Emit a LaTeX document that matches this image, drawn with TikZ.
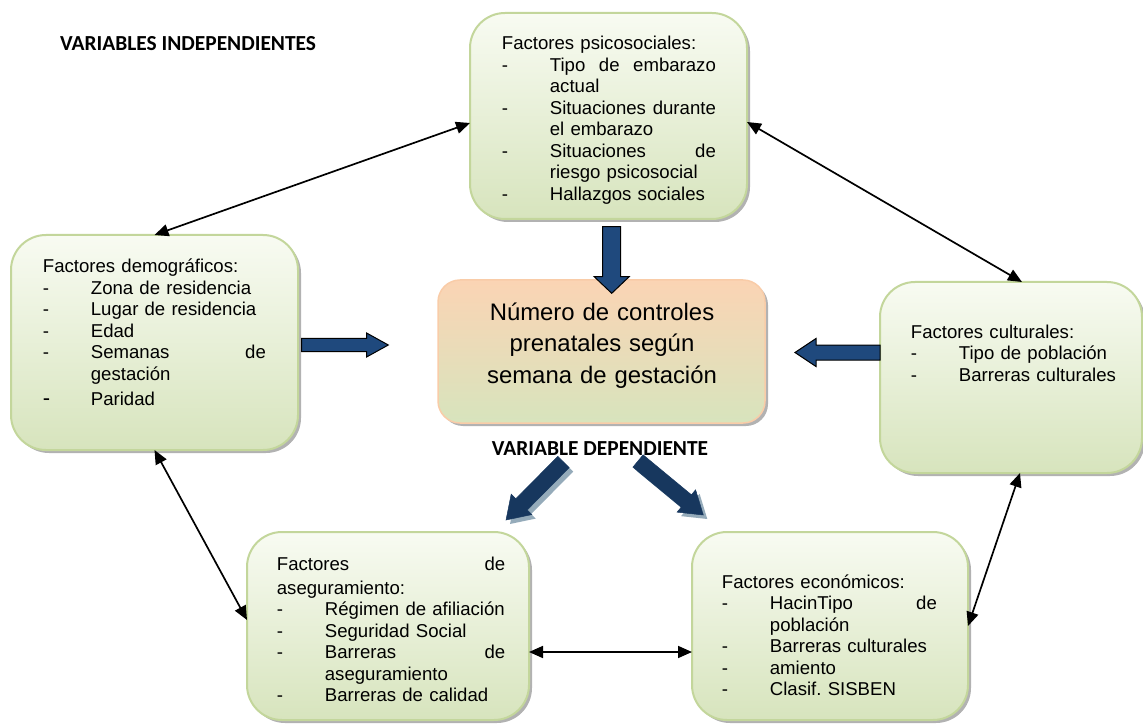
\documentclass[tikz,border=0pt]{standalone}
\usepackage{fontspec}
\setmainfont{Liberation Sans}
\newfontfamily\carl{Carlito}
\usetikzlibrary{arrows.meta,calc,shadows}
\definecolor{boxborder}{HTML}{C3D69B}
\definecolor{boxtop}{HTML}{F8FBF2}
\definecolor{boxbot}{HTML}{D7E4BD}
\definecolor{peach}{HTML}{FBD4B4}
\definecolor{peachb}{HTML}{F9CCA8}
\definecolor{navy}{HTML}{1F497D}
\definecolor{navyd}{HTML}{17375E}
\definecolor{arrshadow}{HTML}{95ABBA}
\newcommand\di{\makebox[48pt][l]{-}}
\newcommand\ct{\hspace*{48pt}}
\newcommand\blockarrow[6]{%
  \coordinate (bH) at ($(#3)!#6!(#2)$);
  \draw[#1] ($(#2)!#4!90:(#3)$) -- ($(bH)!#4!-90:(#2)$) -- ($(bH)!#5!-90:(#2)$) -- (#3)
    -- ($(bH)!#5!90:(#2)$) -- ($(bH)!#4!90:(#2)$) -- ($(#2)!#4!-90:(#3)$) -- cycle;
}
\tikzset{
  gbox/.style={draw=boxborder, line width=2pt, rounded corners=35pt,
    top color=boxtop, bottom color=boxbot, inner sep=0pt, outer sep=0pt,
    general shadow={fill=black!30, shadow xshift=3pt, shadow yshift=-3pt}},
  cbox/.style={draw=peachb, line width=1.5pt, rounded corners=22pt,
    top color=peach, bottom color=boxbot, inner sep=0pt, outer sep=0pt,
    general shadow={fill=black!30, shadow xshift=3pt, shadow yshift=-3pt}},
  txt/.style={anchor=base west, align=left, inner sep=0pt,
    font=\fontsize{18.6}{21.5}\selectfont\frenchspacing},
  lbl/.style={inner sep=0pt, font=\carl\bfseries\fontsize{21.4}{25}\selectfont},
  conn/.style={line width=1.7pt, {Triangle[length=14pt,width=12pt]}-{Triangle[length=14pt,width=12pt]}},
  blk/.style={fill=navy, draw=black, line width=1pt},
  blkd/.style={fill=navyd, draw=navyd, line width=0.5pt},
  blks/.style={fill=arrshadow, draw=none, transform canvas={shift={(4pt,-4pt)}}}
}
\begin{document}
\begin{tikzpicture}[x=1pt,y=-1pt]
\useasboundingbox (0,0) rectangle (1143,727);

% boxes
\node[gbox, minimum width=277pt, minimum height=206pt] (psi) at (608.5,116) {};
\node[gbox, minimum width=287pt, minimum height=215pt] (demog) at (154.5,342.5) {};
\node[gbox, minimum width=262pt, minimum height=191pt] (cult) at (1011,377.5) {};
\node[gbox, minimum width=282pt, minimum height=188pt] (aseg) at (388,626) {};
\node[gbox, minimum width=276pt, minimum height=188pt] (econ) at (830,626) {};
\node[cbox, minimum width=327pt, minimum height=143pt] (central) at (601.5,351.5) {};

% texts
\node[txt, text width=214pt] (psiT) at (501.7,50) {Factores psicosociales:\\
\di Tipo\hfill de\hfill embarazo\\
\ct actual\\
\di Situaciones\hfill durante\\
\ct el embarazo\\
\di Situaciones\hfill de\\
\ct riesgo psicosocial\\
\di Hallazgos sociales};

\node[txt, text width=223pt] (demogT) at (42.7,272.7) {Factores demográficos:\\
\di Zona de residencia\\
\di Lugar de residencia\\
\di Edad\\
\di Semanas\hfill de\\
\ct gestación\\[3.5pt]
\makebox[48pt][l]{\fontsize{22}{22}\selectfont -}Paridad};

\node[txt, text width=230pt] (cultT) at (910.7,338) {Factores culturales:\\
\di Tipo de población\\
\di Barreras culturales};

\node[txt, text width=228.3pt] (asegT) at (276.7,570) {Factores\hfill de\\[2.5pt]
aseguramiento:\\
\di Régimen de afiliación\\
\di Seguridad Social\\
\di Barreras\hfill de\\
\ct aseguramiento\\
\di Barreras de calidad};

\node[txt, text width=215pt] (econT) at (721.7,588) {Factores económicos:\\
\di HacinTipo\hfill de\\
\ct población\\
\di Barreras culturales\\
\di amiento\\
\di Clasif. SISBEN};

\node[anchor=base, align=center, text width=330pt, inner sep=0pt,
  font=\fontsize{23.9}{31.5}\selectfont] (centralT) at (602,320)
  {Número de controles\\prenatales según\\semana de gestación};

\node[lbl, anchor=base west] (indep) at (60,51) {VARIABLES INDEPENDIENTES};
\node[lbl, anchor=base] (dep) at (600,455) {VARIABLE DEPENDIENTE};

% thin double arrows
\draw[conn] ([yshift=-7pt]psi.west) -- (demog.north);
\draw[conn] ([yshift=-6pt]psi.east) -- ([xshift=11pt]cult.north);
\draw[conn] (demog.south) -- ([yshift=6pt]aseg.west);
\draw[conn] ([yshift=-26pt]aseg.east) -- ([yshift=-26pt]econ.west);
\draw[conn] ([xshift=9pt]cult.south) -- (econ.east);

% block arrows
\coordinate (dA) at (611.7,226.7); \coordinate (dB) at (611.7,293.3);
\coordinate (rA) at (301.7,345);   \coordinate (rB) at (388.3,345);
\coordinate (lA) at (880,352.5);   \coordinate (lB) at (795,352.5);
\coordinate (gA) at (563.5,462);   \coordinate (gB) at (506,520);
\coordinate (hA) at (638,461);     \coordinate (hB) at (703.3,515);

\blockarrow{blk}{dA}{dB}{9pt}{17.5pt}{16.6pt}
\blockarrow{blk}{rA}{rB}{6.7pt}{12pt}{21.7pt}
\blockarrow{blk}{lA}{lB}{7.5pt}{14pt}{21pt}
\blockarrow{blks}{gA}{gB}{8pt}{14.5pt}{22pt}
\blockarrow{blks}{hA}{hB}{8pt}{14.5pt}{22pt}
\blockarrow{blkd}{gA}{gB}{8pt}{14.5pt}{22pt}
\blockarrow{blkd}{hA}{hB}{8pt}{14.5pt}{22pt}
\end{tikzpicture}
\end{document}
